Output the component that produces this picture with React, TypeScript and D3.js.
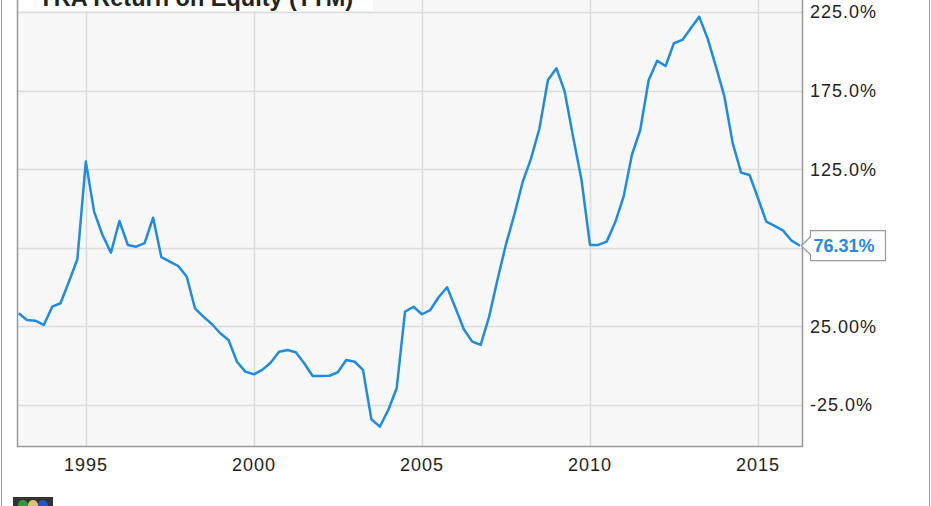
import { useEffect, useRef } from 'react';
import * as d3 from 'd3';

// quarterly ROE (TTM), first quarter ends 1992-12-31
const roeValues = [
  33.3, 29.1, 28.6, 25.9, 37.5, 39.7, 53.4, 67.7, 129.8, 98.0,
  83.1, 71.9, 92.0, 76.8, 75.7, 77.9, 94.1, 69.0, 66.2, 63.4,
  56.7, 36.5, 31.2, 26.5, 20.6, 16.3, 2.5, -3.8, -5.5, -2.7,
  1.9, 8.9, 10.0, 8.5, 1.5, -6.6, -6.6, -6.4, -4.2, 3.6,
  2.5, -2.7, -34.1, -38.8, -28.2, -14.4, 34.4, 37.5, 32.7, 35.4,
  43.5, 49.9, 36.5, 23.2, 15.3, 13.2, 31.2, 54.5, 76.8, 95.9,
  117.0, 131.9, 151.0, 181.7, 189.2, 174.3, 145.7, 118.1, 76.8, 76.8,
  78.9, 91.0, 107.5, 134.0, 149.9, 181.7, 194.0, 190.6, 205.1, 207.2,
  214.6, 222.0, 208.3, 190.2, 171.1, 141.5, 122.8, 121.3, 106.5, 91.6,
  88.9, 85.9, 79.5, 76.31,
];

// gridlines; the 75% label sits under the last-value callout, so it is not printed
const yTicks = [225, 175, 125, 75, 25, -25];
const yLabelTicks = [225, 175, 125, 25, -25];
const yTickLabels = ['225.0%', '175.0%', '125.0%', '25.00%', '-25.0%'];
const xTickYears = [1995, 2000, 2005, 2010, 2015];
const title = 'YRA Return on Equity (TTM)';
const lastLabel = '76.31%';

const W = 931;
const H = 506;

export default function App() {
  const svgRef = useRef<SVGSVGElement>(null);

  useEffect(() => {
    if (!svgRef.current) return;
    const svg = d3.select(svgRef.current);
    svg.selectAll('*').remove();

    const left = 17, right = 802, top = 0, bottom = 446;
    const lineColor = '#1e8ce3';
    const font = 'Liberation Sans, Arial, sans-serif';

    const data = roeValues.map((v, i) => ({ date: new Date(1993, 3 * i, 0), value: v }));

    const x = d3.scaleTime()
      .domain([new Date(1992, 11, 13), new Date(2016, 3, 22)])
      .range([left, right]);
    const y = d3.scaleLinear().domain([-51.1, 232.6]).range([bottom, top]);

    svg.append('rect').attr('width', W).attr('height', H).attr('fill', 'white');

    // outer frame lines
    svg.append('line').attr('x1', 1.5).attr('x2', 1.5).attr('y1', 0).attr('y2', H)
      .attr('stroke', '#999').attr('stroke-width', 1);
    svg.append('line').attr('x1', 929.5).attr('x2', 929.5).attr('y1', 0).attr('y2', H)
      .attr('stroke', '#999').attr('stroke-width', 1);

    // plot background
    svg.append('rect')
      .attr('x', left).attr('y', -10)
      .attr('width', right - left).attr('height', bottom + 10)
      .attr('fill', '#f7f7f7');

    const g = svg.append('g');

    // grid
    g.selectAll('.hgrid').data(yTicks).enter().append('line')
      .attr('x1', left).attr('x2', right)
      .attr('y1', d => Math.round(y(d)) + 0.5).attr('y2', d => Math.round(y(d)) + 0.5)
      .attr('stroke', '#dcdcdc').attr('stroke-width', 1.5);
    g.selectAll('.vgrid').data(xTickYears).enter().append('line')
      .attr('x1', d => Math.round(x(new Date(d, 0, 1))) + 0.5)
      .attr('x2', d => Math.round(x(new Date(d, 0, 1))) + 0.5)
      .attr('y1', top - 10).attr('y2', bottom)
      .attr('stroke', '#dcdcdc').attr('stroke-width', 1.5);

    // title box (cut off at top)
    svg.append('rect').attr('x', left + 1).attr('y', -20).attr('width', 355).attr('height', 31)
      .attr('fill', 'white');
    svg.append('text')
      .attr('x', 38).attr('y', 6)
      .attr('font-family', font)
      .attr('font-weight', 'bold').attr('font-size', 23.5)
      .attr('fill', '#222')
      .text(title);

    // plot border
    svg.append('path')
      .attr('d', `M${left + 0.5},-5V${bottom + 0.5}H${right + 0.5}V-5`)
      .attr('fill', 'none').attr('stroke', '#999').attr('stroke-width', 1.5);

    // series
    const line = d3.line<{ date: Date; value: number }>()
      .x(d => x(d.date)).y(d => y(d.value));
    svg.append('path').datum(data)
      .attr('d', line)
      .attr('fill', 'none').attr('stroke', lineColor)
      .attr('stroke-width', 2.5).attr('stroke-linejoin', 'round');

    // y labels
    svg.selectAll('.ylab').data(yLabelTicks).enter().append('text')
      .attr('x', 810).attr('y', d => y(d))
      .attr('dy', '0.36em')
      .attr('font-family', font)
      .attr('font-size', 18).attr('letter-spacing', 1)
      .attr('fill', '#222')
      .text((_d, i) => yTickLabels[i]);

    // x labels
    svg.selectAll('.xlab').data(xTickYears).enter().append('text')
      .attr('x', d => x(new Date(d, 0, 1)))
      .attr('y', 470.5)
      .attr('text-anchor', 'middle')
      .attr('font-family', font)
      .attr('font-size', 18).attr('letter-spacing', 1)
      .attr('fill', '#222')
      .text(d => String(d));

    // last value callout
    const last = data[data.length - 1];
    const lx = x(last.date) + 1.5;
    const ly = y(last.value);
    svg.append('path')
      .attr('d', `M${lx},${ly}L${lx + 9},${ly - 9}V${ly - 15}H${lx + 84}V${ly + 15}H${lx + 9}V${ly + 9}Z`)
      .attr('fill', 'white').attr('stroke', '#999').attr('stroke-width', 1.2);
    svg.append('text')
      .attr('x', lx + 12).attr('y', ly).attr('dy', '0.36em')
      .attr('font-family', font)
      .attr('font-weight', 'bold').attr('font-size', 18)
      .attr('fill', lineColor)
      .text(lastLabel);

    // small logo at bottom-left
    const logo = svg.append('g').attr('transform', 'translate(13,497)');
    logo.append('rect').attr('width', 40).attr('height', 12).attr('fill', '#333');
    logo.append('circle').attr('cx', 10).attr('cy', 8).attr('r', 5).attr('fill', '#2a9d3a');
    logo.append('circle').attr('cx', 20).attr('cy', 8).attr('r', 5).attr('fill', '#e0c070');
    logo.append('circle').attr('cx', 30).attr('cy', 8).attr('r', 5).attr('fill', '#2255cc');
  }, []);

  return (
    <svg
      ref={svgRef}
      width={W}
      height={H}
      style={{ position: 'absolute', left: 0, top: 0, display: 'block' }}
    />
  );
}
